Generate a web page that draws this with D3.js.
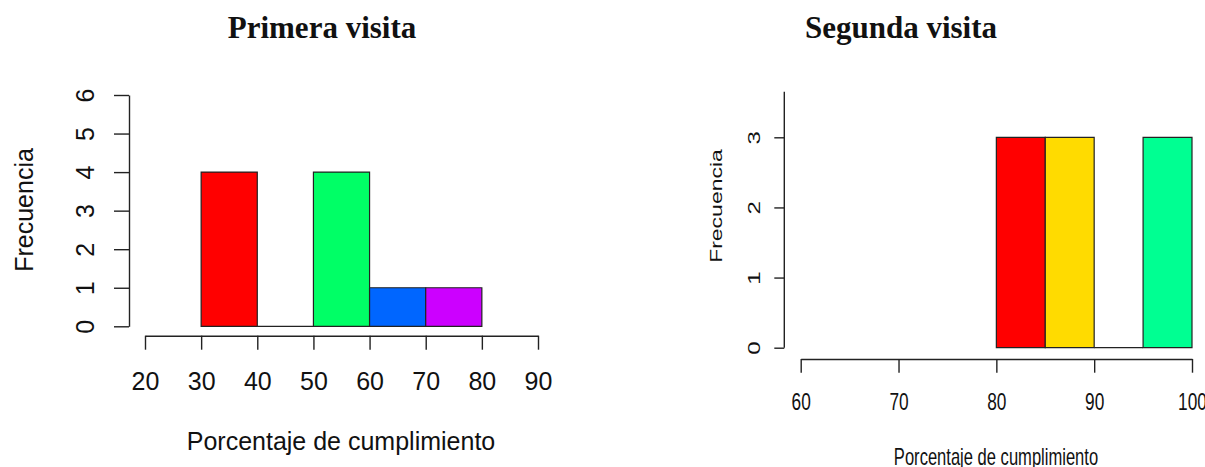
<!DOCTYPE html>
<html>
<head>
<meta charset="utf-8">
<script src="https://cdn.jsdelivr.net/npm/d3@7"></script>
<style>
  html, body { margin: 0; padding: 0; background: #fff; }
  svg { display: block; }
  text { fill: #111; }
</style>
</head>
<body>
<svg id="chart" width="1205" height="467"></svg>
<script>
// ---- data ----
const leftTitle = "Primera visita";
const rightTitle = "Segunda visita";
const xLabel = "Porcentaje de cumplimiento";
const yLabel = "Frecuencia";

const leftBreaks = [30, 40, 50, 60, 70, 80];
const leftCounts = [4, 0, 4, 1, 1];
const leftColors = ["#FF0000", "#CCFF00", "#00FF66", "#0066FF", "#CC00FF"];
const leftXTicks = [20, 30, 40, 50, 60, 70, 80, 90];
const leftYTicks = [0, 1, 2, 3, 4, 5, 6];

const rightBreaks = [80, 85, 90, 95, 100];
const rightCounts = [3, 3, 0, 3];
const rightColors = ["#FF0000", "#FFDB00", "#49FF00", "#00FF92"];
const rightXTicks = [60, 70, 80, 90, 100];
const rightYTicks = [0, 1, 2, 3];

const svg = d3.select("#chart");
const sansFont = "'Liberation Sans', Arial, sans-serif";
const serifFont = "'Liberation Serif', 'Times New Roman', serif";
const axisColor = "#222";

function bins(breaks, counts, colors) {
  return counts.map((c, i) => ({ x0: breaks[i], x1: breaks[i + 1], n: c, color: colors[i] }));
}

function drawBars(g, data, x, y) {
  g.selectAll("path.bar").data(data).join("path")
    .attr("class", "bar")
    .attr("d", d => `M${x(d.x0)},${y(0)}V${y(d.n)}H${x(d.x1)}V${y(0)}Z`)
    .attr("fill", d => d.color)
    .attr("stroke", "#222")
    .attr("stroke-width", 1.2);
}

function styleAxis(g) {
  g.selectAll("path.domain").attr("stroke", axisColor).attr("stroke-width", 1.4);
  g.selectAll(".tick line").attr("stroke", axisColor).attr("stroke-width", 1.4);
  g.selectAll(".tick text").style("fill", "#111");
}

// ---------------- LEFT PANEL ----------------
{
  const x = d3.scaleLinear().domain([20, 90]).range([145, 538]);
  const y = d3.scaleLinear().domain([0, 6]).range([326.3, 95]);
  const g = svg.append("g");

  drawBars(g, bins(leftBreaks, leftCounts, leftColors), x, y);

  const gy = g.append("g").attr("transform", "translate(129,0)")
    .call(d3.axisLeft(y).tickValues(leftYTicks).tickSize(15).tickSizeOuter(0).tickFormat(d3.format("d")));
  styleAxis(gy);
  gy.selectAll(".tick text")
    .attr("x", 0).attr("dy", 0)
    .attr("text-anchor", "middle")
    .attr("transform", "translate(-35,0) rotate(-90)")
    .style("font-family", sansFont).style("font-size", "25px");

  const gx = g.append("g").attr("transform", "translate(0,335.7)")
    .call(d3.axisBottom(x).tickValues(leftXTicks).tickSize(14).tickSizeOuter(0).tickFormat(d3.format("d")));
  styleAxis(gx);
  gx.selectAll(".tick text")
    .attr("y", 54).attr("dy", 0)
    .style("font-family", sansFont).style("font-size", "25px");

  svg.append("text").attr("x", 322).attr("y", 38)
    .attr("text-anchor", "middle")
    .style("font-family", serifFont).style("font-weight", "bold").style("font-size", "31px")
    .text(leftTitle);

  svg.append("text").attr("transform", "translate(33,210) rotate(-90)")
    .attr("text-anchor", "middle")
    .style("font-family", sansFont).style("font-size", "25px")
    .text(yLabel);

  svg.append("text").attr("x", 341).attr("y", 450)
    .attr("text-anchor", "middle")
    .style("font-family", sansFont).style("font-size", "25px")
    .text(xLabel);
}

// ---------------- RIGHT PANEL ----------------
{
  const sx = 0.72;
  const x = d3.scaleLinear().domain([60, 100]).range([800.7, 1192]);
  const y = d3.scaleLinear().domain([0, 3]).range([347.7, 137.3]);
  const g = svg.append("g");

  drawBars(g, bins(rightBreaks, rightCounts, rightColors), x, y);

  const gy = g.append("g").attr("transform", "translate(784.3,0)")
    .call(d3.axisLeft(y).tickValues(rightYTicks).tickSize(10).tickSizeOuter(0).tickFormat(d3.format("d")));
  styleAxis(gy);
  gy.select("path.domain").remove();
  gy.append("line")
    .attr("x1", 0).attr("x2", 0)
    .attr("y1", y(0)).attr("y2", y(3.65))
    .attr("stroke", axisColor).attr("stroke-width", 1.4);
  gy.selectAll(".tick text")
    .attr("x", 0).attr("dy", 0)
    .attr("text-anchor", "middle")
    .attr("transform", `translate(-24.3,0) scale(${sx},1) rotate(-90)`)
    .style("font-family", sansFont).style("font-size", "24px");

  const gx = g.append("g").attr("transform", "translate(0,359)")
    .call(d3.axisBottom(x).tickValues(rightXTicks).tickSize(13.7).tickSizeOuter(0).tickFormat(d3.format("d")));
  styleAxis(gx);
  gx.selectAll(".tick text")
    .attr("y", 51).attr("dy", 0)
    .attr("transform", `scale(${sx},1)`)
    .style("font-family", sansFont).style("font-size", "24px");

  svg.append("text").attr("x", 901).attr("y", 38)
    .attr("text-anchor", "middle")
    .style("font-family", serifFont).style("font-weight", "bold").style("font-size", "31px")
    .text(rightTitle);

  svg.append("text").attr("transform", `translate(722,206) scale(${sx},1) rotate(-90)`)
    .attr("text-anchor", "middle")
    .style("font-family", sansFont).style("font-size", "23px")
    .text(yLabel);

  svg.append("text").attr("transform", `translate(996,465) scale(${sx},1)`)
    .attr("text-anchor", "middle")
    .style("font-family", sansFont).style("font-size", "23px")
    .text(xLabel);
}
</script>
</body>
</html>
